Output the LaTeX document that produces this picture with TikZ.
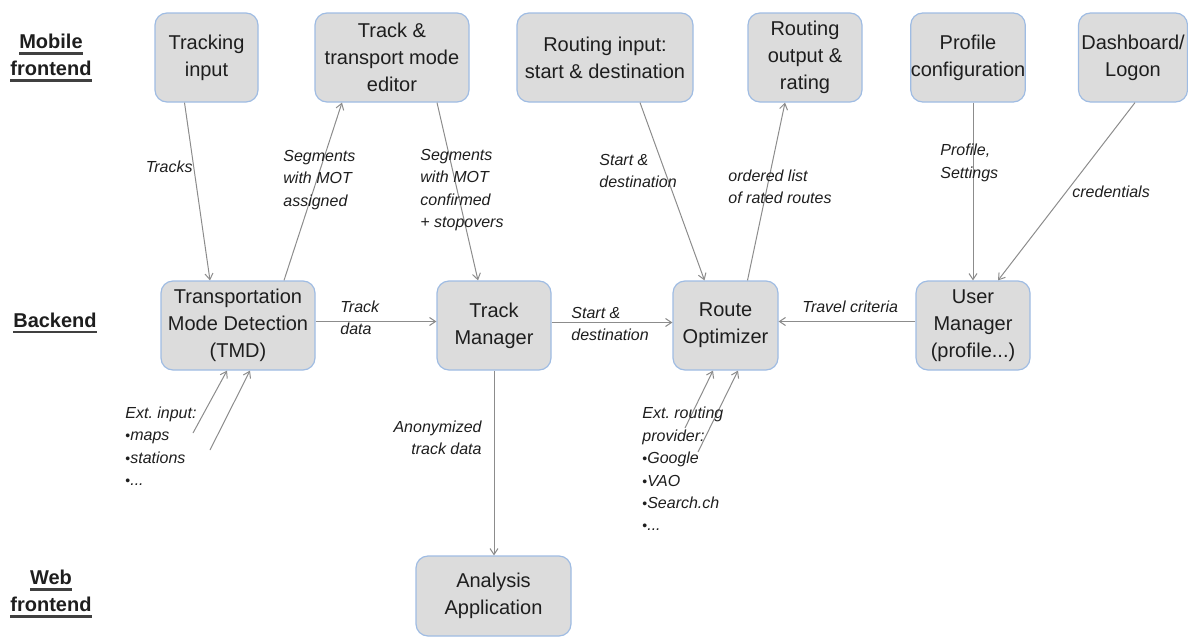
\documentclass[tikz,border=0pt]{standalone}
\usepackage{fontspec}
\setmainfont{Liberation Sans}
\usepackage{tikz}
\usetikzlibrary{arrows.meta,calc}
\definecolor{boxfill}{HTML}{DCDCDC}
\definecolor{boxline}{HTML}{9FBCE3}
\definecolor{wire}{HTML}{8C8C8C}
\definecolor{ink}{HTML}{1E1E1E}
\definecolor{ulgray}{HTML}{404040}
\newsavebox\layerbox
\newcommand\layerul[1]{\sbox\layerbox{#1}\rlap{\textcolor{ulgray}{\rule[-2.8pt]{\wd\layerbox}{1.2pt}}}\usebox\layerbox}
\newcommand\dotitem{{\upshape\scriptsize\textbullet}}

\begin{document}
\begin{tikzpicture}[x=0.5pt,y=-0.5pt,
  comp/.style={draw=boxline, fill=boxfill, line width=0.6pt, rounded corners=6pt,
    align=center, text=ink, font=\fontsize{10}{13.5}\selectfont,
    minimum height=44.5pt, inner sep=0pt},
  flow/.style={draw=wire, line width=0.5pt, -{Straight Barb[length=3pt,width=4pt]}},
  lbl/.style={font=\itshape\fontsize{8}{11.2}\selectfont, text=ink, inner sep=0pt, align=left},
  layer/.style={font=\bfseries\fontsize{10}{13.5}\selectfont, text=ink, inner sep=0pt, align=center}]
  \useasboundingbox (0,0) rectangle (1188,637);

  % layers
  \node[layer] (mob) at (51,58) {\layerul{Mobile}\\\layerul{frontend}};
  \node[layer] (back) at (55,323) {\layerul{Backend}};
  \node[layer] (web) at (51,594) {\layerul{Web}\\\layerul{frontend}};

  % mobile frontend
  \node[comp, minimum width=51.5pt] (trk) at (206.5,57.5) {Tracking\\input};
  \node[comp, minimum width=77pt] (edit) at (392,57.5) {Track \&\\transport mode\\editor};
  \node[comp, minimum width=88pt] (rin) at (605,57.5) {Routing input:\\start \& destination};
  \node[comp, minimum width=57pt] (rout) at (805,57.5) {Routing\\output \&\\rating};
  \node[comp, minimum width=57pt] (prof) at (968,57.5) {Profile\\configuration};
  \node[comp, minimum width=54.5pt] (dash) at (1133,57.5) {Dashboard/\\Logon};

  % backend
  \node[comp, minimum width=77pt] (tmd) at (238,325.5) {Transportation\\Mode Detection\\(TMD)};
  \node[comp, minimum width=57pt] (tm) at (494,325.5) {Track\\Manager};
  \node[comp, minimum width=52.5pt] (ro) at (725.5,325.5) {Route\\Optimizer};
  \node[comp, minimum width=57pt] (um) at (973,325.5) {User\\Manager\\(profile...)};

  % web frontend
  \node[comp, minimum width=77.5pt, minimum height=40pt] (ana) at (493.5,596) {Analysis\\Application};

  % vertical flows
  \draw[flow] ($(trk.south)+(-22,0)$) -- ($(tmd.north)+(-28,0)$);
  \draw[flow] ($(tmd.north)+(46,0)$) -- ($(edit.south)+(-50,0)$);
  \draw[flow] ($(edit.south)+(45,0)$) -- ($(tm.north)+(-16,0)$);
  \draw[flow] ($(rin.south)+(35,0)$) -- ($(ro.north)+(-21,0)$);
  \draw[flow] ($(ro.north)+(22,0)$) -- ($(rout.south)+(-20,0)$);
  \draw[flow] (um.north |- prof.south) -- (um.north);
  \draw[flow] ($(dash.south)+(2,0)$) -- ($(um.north)+(25,0)$);
  \draw[flow] (tm.south) -- (tm.south |- ana.north);

  % horizontal flows
  \draw[flow] ($(tmd.east)+(0,-4)$) -- ($(tm.west)+(0,-4)$);
  \draw[flow] ($(tm.east)+(0,-3)$) -- ($(ro.west)+(0,-3)$);
  \draw[flow] ($(um.west)+(0,-4)$) -- ($(ro.east)+(0,-4)$);

  % external inputs
  \coordinate (mapsin) at (193,433);
  \coordinate (statin) at (210,450);
  \coordinate (googin) at (685,428);
  \coordinate (vaoin) at (698,452);
  \draw[flow] (mapsin) -- ($(tmd.south)+(-11,0)$);
  \draw[flow] (statin) -- ($(tmd.south)+(12,0)$);
  \draw[flow] (googin) -- ($(ro.south)+(-12.5,0)$);
  \draw[flow] (vaoin) -- ($(ro.south)+(12.5,0)$);

  % labels
  \node[lbl, anchor=east] (l-tracks) at (193,167) {Tracks};
  \node[lbl, anchor=west] (l-seg) at (283,180) {Segments\\with MOT\\assigned};
  \node[lbl, anchor=west] (l-segok) at (420,190) {Segments\\with MOT\\confirmed\\+ stopovers};
  \node[lbl, anchor=west] (l-sd) at (599,171) {Start \&\\destination};
  \node[lbl, anchor=west] (l-rated) at (728,187) {ordered list\\of rated routes};
  \node[lbl, anchor=west] (l-prof) at (940,163) {Profile,\\Settings};
  \node[lbl, anchor=west] (l-cred) at (1072,192) {credentials};
  \node[lbl, anchor=west] (l-tdata) at (340,318) {Track\\data};
  \node[lbl, anchor=west] (l-sd2) at (571,324) {Start \&\\destination};
  \node[lbl, anchor=west] (l-crit) at (802,307) {Travel criteria};
  \node[lbl, anchor=east, align=right] (l-anon) at (482,438) {Anonymized\\track data};
  \node[lbl, anchor=west] (l-ext) at (125,446) {Ext.\ input:\\\dotitem maps\\\dotitem stations\\\dotitem...};
  \node[lbl, anchor=west] (l-prov) at (642,469) {Ext.\ routing\\provider:\\\dotitem Google\\\dotitem VAO\\\dotitem Search.ch\\\dotitem...};
\end{tikzpicture}
\end{document}
